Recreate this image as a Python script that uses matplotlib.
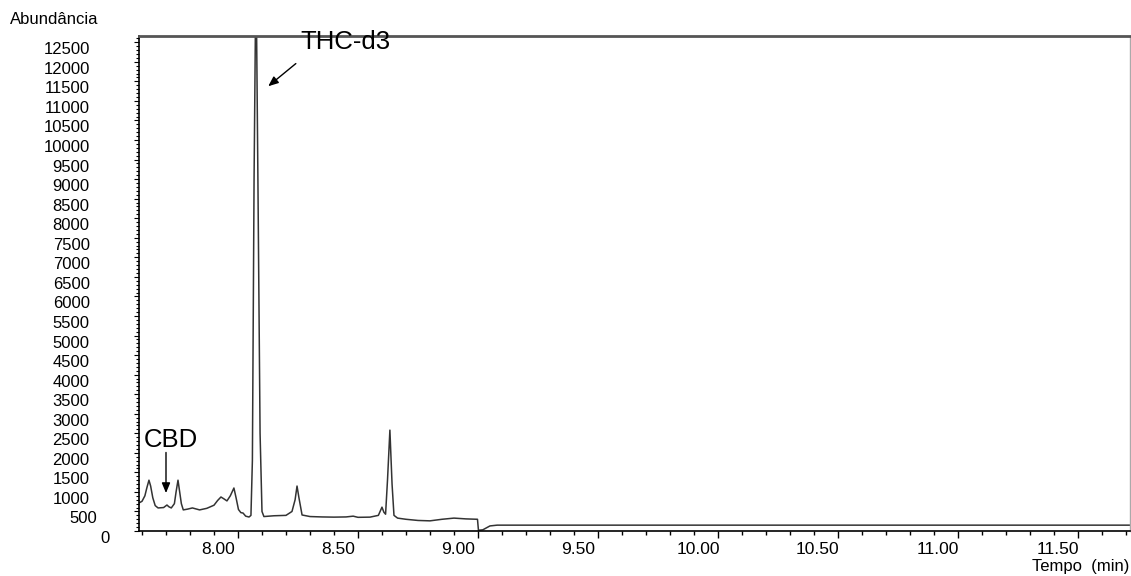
import matplotlib.pyplot as plt
from matplotlib.ticker import MultipleLocator
from matplotlib.transforms import ScaledTranslation

# retention time (min) and abundance along the chromatogram trace
tempo = [7.588, 7.600, 7.612, 7.620, 7.629, 7.636, 7.645, 7.655, 7.667, 7.690,
         7.704, 7.712, 7.722, 7.735, 7.742, 7.750, 7.757, 7.764, 7.772, 7.790,
         7.810, 7.840, 7.870, 7.900, 7.915, 7.929, 7.942, 7.954, 7.968, 7.983,
         7.992, 8.002, 8.012, 8.021, 8.032, 8.046, 8.054, 8.060, 8.067, 8.075,
         8.083, 8.092, 8.100, 8.108, 8.150, 8.200, 8.225, 8.238, 8.246, 8.254,
         8.267, 8.300, 8.350, 8.400, 8.450, 8.480, 8.500, 8.550, 8.585, 8.600,
         8.608, 8.615, 8.623, 8.633, 8.642, 8.650, 8.665, 8.700, 8.750, 8.800,
         8.850, 8.900, 8.950, 8.998, 9.002, 9.020, 9.050, 9.080, 11.717]
abundancia = [720, 760, 900, 1100, 1300, 1150, 850, 650, 590, 600,
              665, 620, 590, 700, 1000, 1300, 1000, 700, 540, 560,
              590, 540, 580, 660, 780, 870, 820, 770, 900, 1100,
              850, 550, 470, 460, 380, 358, 400, 1800, 9000, 14500,
              9000, 2500, 500, 370, 390, 400, 500, 800, 1150, 850,
              410, 370, 360, 355, 360, 380, 350, 355, 400, 610,
              480, 430, 1300, 2580, 1200, 400, 330, 300, 270, 260,
              300, 330, 310, 300, 20, 30, 130, 150, 150]

x_major = [8.0, 8.5, 9.0, 9.5, 10.0, 10.5, 11.0, 11.5]
x_labels = ['8.00', '8.50', '9.00', '9.50', '10.00', '10.50', '11.00', '11.50']
y_major = list(range(0, 12501, 500))

plt.rcParams['font.family'] = ['Liberation Sans', 'DejaVu Sans']

fig = plt.figure(figsize=(11.31, 5.76), dpi=100)
ax = fig.add_axes([0.1229, 0.0781, 0.8762, 0.8594])

ax.plot(tempo, abundancia, color='#333333', lw=1.1)

ax.set_xlim(7.5875, 11.717)
ax.set_ylim(0, 12660)

ax.set_xticks(x_major)
ax.set_xticklabels(x_labels, fontsize=12.5)
ax.xaxis.set_minor_locator(MultipleLocator(0.1))
ax.set_yticks(y_major)
ax.set_yticklabels([str(v) for v in y_major], fontsize=12)
ax.yaxis.set_minor_locator(MultipleLocator(100))

ax.tick_params(axis='x', which='major', length=5, width=1, pad=3)
ax.tick_params(axis='x', which='minor', length=3, width=1)
ax.tick_params(axis='y', which='major', length=3.5, width=0.8, pad=32)
ax.tick_params(axis='y', which='minor', length=2, width=0.8)

# labels sit a little left of / below their ticks
for lbl in ax.get_xticklabels():
    lbl.set_transform(lbl.get_transform() + ScaledTranslation(-0.20, 0, fig.dpi_scale_trans))
for lbl in ax.get_yticklabels():
    dx = 0.0
    if lbl.get_text() == '500':
        dx = 0.07
    elif lbl.get_text() == '0':
        dx = 0.20
    lbl.set_transform(lbl.get_transform() + ScaledTranslation(dx, -0.06, fig.dpi_scale_trans))

for side in ['left', 'bottom']:
    ax.spines[side].set_color('black')
    ax.spines[side].set_linewidth(1.2)
ax.spines['top'].set_color('#555555')
ax.spines['top'].set_linewidth(2)
ax.spines['right'].set_color('#aaaaaa')
ax.spines['right'].set_linewidth(1)

arrow = dict(arrowstyle='-|>,head_length=0.6,head_width=0.25', color='black', lw=1)

ax.text(7.721, 2330, 'CBD', fontsize=18.5, ha='center', va='center')
ax.annotate('', xy=(7.70, 900), xytext=(7.70, 2080), arrowprops=arrow)

ax.text(8.258, 12500, 'THC-d3', fontsize=18.5, ha='left', va='center')
ax.annotate('', xy=(8.117, 11330), xytext=(8.25, 12000), arrowprops=arrow)

fig.text(10 / 1131, 1 - 19 / 576, 'Abundância', fontsize=12, ha='left', va='center')
fig.text(1129 / 1131, 1 - 566 / 576, 'Tempo  (min)', fontsize=12, ha='right', va='center')

fig.savefig('out.png', dpi=100)
